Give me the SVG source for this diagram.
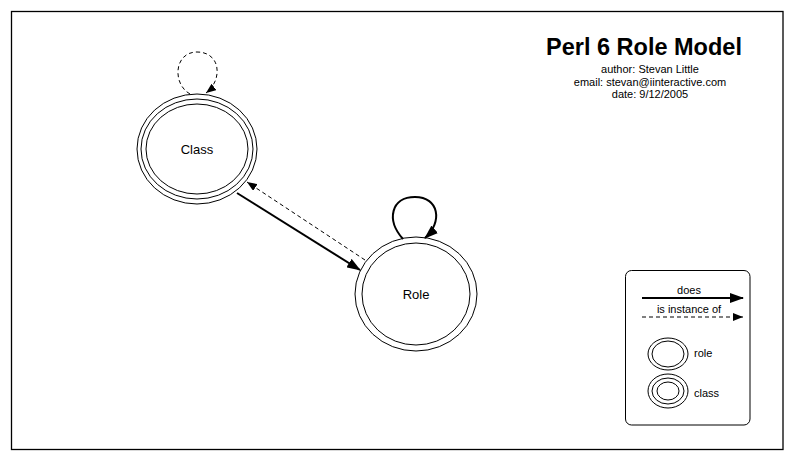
<svg xmlns="http://www.w3.org/2000/svg" width="794" height="461" viewBox="0 0 794 461">
<style>
text{font-family:"Liberation Sans",Arial,sans-serif;fill:#000}
.ring{fill:none;stroke:#000;stroke-width:1}
.solid{fill:none;stroke:#000;stroke-width:2}
.dash{fill:none;stroke:#000;stroke-width:1;stroke-dasharray:4,3}
.lbl{font-size:13px;text-anchor:middle}
.small{font-size:11px}
</style>
<defs>
<marker id="big" markerUnits="userSpaceOnUse" markerWidth="14" markerHeight="10" refX="13" refY="5" orient="auto">
<path d="M0,0 L14,5 L0,10 Z" fill="#000"/>
</marker>
<marker id="sm" markerUnits="userSpaceOnUse" markerWidth="10" markerHeight="8" refX="10" refY="4" orient="auto">
<path d="M0,0 L10,4 L0,8 Z" fill="#000"/>
</marker>
</defs>
<rect x="11.5" y="11.5" width="771.5" height="438" fill="#fff" stroke="#000" stroke-width="1.3"/>
<g id="title">
<text x="644" y="55" font-size="23.5" font-weight="bold" text-anchor="middle">Perl 6 Role Model</text>
<text class="small" x="650" y="73" text-anchor="middle">author: Stevan Little</text>
<text class="small" x="650" y="86" text-anchor="middle">email: stevan@iinteractive.com</text>
<text class="small" x="650" y="98" text-anchor="middle">date: 9/12/2005</text>
</g>
<g id="node-class">
<ellipse class="ring" cx="197" cy="149" rx="60" ry="55"/>
<ellipse class="ring" cx="197" cy="149" rx="56" ry="50"/>
<ellipse class="ring" cx="197" cy="149" rx="51" ry="45"/>
<text class="lbl" x="197" y="154">Class</text>
</g>
<g id="node-role">
<ellipse class="ring" cx="416" cy="294" rx="61" ry="57"/>
<ellipse class="ring" cx="416" cy="294" rx="54" ry="51"/>
<text class="lbl" x="416" y="299">Role</text>
</g>
<g id="connectors">
<path class="dash" d="M190,94 C172,84 174,52 197,52 C221,52 223,80 206,93" marker-end="url(#sm)"/>
<path class="solid" d="M403,239 C386,220 391,197 415,197 C439,197 443,222 425,238" marker-end="url(#big)"/>
<line class="solid" x1="237" y1="193" x2="360" y2="270" marker-end="url(#big)"/>
<line class="dash" x1="365" y1="260" x2="247" y2="182" marker-end="url(#sm)"/>
</g>
<g id="legend">
<rect x="625.5" y="270.5" width="124.5" height="154.5" rx="6" fill="#fff" stroke="#000" stroke-width="1"/>
<text class="small" x="689" y="294" text-anchor="middle">does</text>
<line class="solid" x1="642" y1="298" x2="743" y2="298" marker-end="url(#big)"/>
<text class="small" x="689" y="313" text-anchor="middle">is instance of</text>
<line class="dash" x1="642" y1="317" x2="743" y2="317" stroke-width="1.3" marker-end="url(#sm)"/>
<ellipse class="ring" cx="668" cy="354" rx="20" ry="16"/>
<ellipse class="ring" cx="668" cy="354" rx="16" ry="13"/>
<text class="small" x="694" y="357">role</text>
<ellipse class="ring" cx="668" cy="391" rx="20" ry="17"/>
<ellipse class="ring" cx="668" cy="391" rx="16" ry="13"/>
<ellipse class="ring" cx="668" cy="391" rx="11" ry="9"/>
<text class="small" x="694" y="397">class</text>
</g>
</svg>
